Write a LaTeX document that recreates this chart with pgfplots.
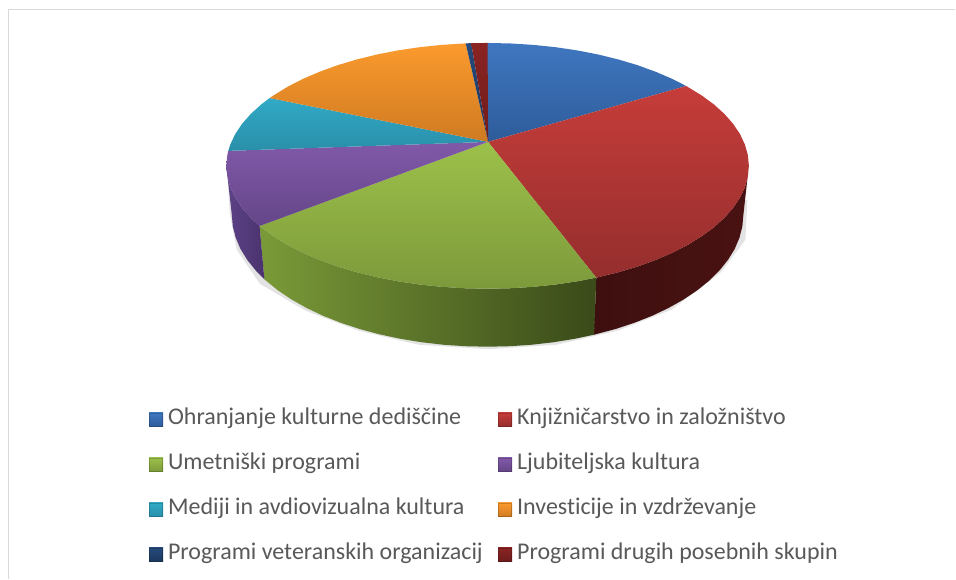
\documentclass[border=0pt]{standalone}
\usepackage{pgfplots}
\pgfplotsset{compat=1.18}
\usepackage{fontspec}
\setmainfont{Carlito}[Ligatures=NoCommon]
\definecolor{txt}{HTML}{595959}
\definecolor{frame}{HTML}{D9D9D9}
\definecolor{blueA}{HTML}{3F77C0}\definecolor{blueB}{HTML}{2E5C9A}
\definecolor{redA}{HTML}{C63D3A}\definecolor{redB}{HTML}{942E2D}
\definecolor{greenA}{HTML}{9CC04A}\definecolor{greenB}{HTML}{7D9A3B}
\definecolor{purpA}{HTML}{8059A8}\definecolor{purpB}{HTML}{654689}
\definecolor{cyanA}{HTML}{31A9C6}\definecolor{cyanB}{HTML}{2A8FA9}
\definecolor{oranA}{HTML}{FB9A2E}\definecolor{oranB}{HTML}{CF7A22}
\definecolor{navyA}{HTML}{264A7C}\definecolor{navyB}{HTML}{1C375C}
\definecolor{drA}{HTML}{8A2423}\definecolor{drB}{HTML}{6E1C1B}
\definecolor{sideRa}{HTML}{4A1212}\definecolor{sideRb}{HTML}{3E0F0F}
\definecolor{sideGa}{HTML}{7A9A38}\definecolor{sideGm}{HTML}{506A26}\definecolor{sideGb}{HTML}{3A4A19}
\definecolor{sidePa}{HTML}{5D4287}\definecolor{sidePb}{HTML}{4A336E}
\begin{document}
\begin{tikzpicture}[x=1pt,y=1pt]
\begin{axis}[
  at={(0pt,0pt)},anchor=south west,
  width=956pt,height=579pt,scale only axis,
  xmin=0,xmax=956,ymin=0,ymax=579,y dir=reverse,
  hide axis,clip=false,
  legend image code/.code={
    \path[#1,draw=none] (0pt,-7pt) rectangle (14pt,7pt);
    \draw[black,opacity=0.18,line width=0.8pt] (0.4pt,-6.6pt) rectangle (13.6pt,6.6pt);
  },
  legend columns=2,
  legend cell align=left,
  legend style={
    at={(axis cs:149,410)},anchor=north west,draw=none,fill=none,inner sep=0pt,
    font=\fontsize{24}{24}\selectfont\color{txt},
    nodes={inner sep=0pt,text height=15pt,text depth=5pt},
    row sep=25pt,
    /tikz/every even column/.style={column sep=15.5pt},
    /tikz/every odd column/.style={column sep=5pt},
  },
]
% white page and chart frame
\addplot[forget plot,draw=none,fill=white] coordinates {(0,0)(956,0)(956,579)(0,579)};
\addplot[forget plot,draw=frame,line width=1.6pt] coordinates {(8.5,579)(8.5,9.5)(956,9.5)};
% soft shadow
\addplot[forget plot,draw=none,fill=black!11] coordinates {(748,200)(746,240)(722,272)(672,310)(618,331)(557,345)(488,349.5)(419,345)(359,331)(306,311)(260,284)(237,250)(230,214)(228,180)};
% sides
\addplot[forget plot,draw=none,left color=sideRb,right color=sideRa] coordinates {(749.5,166)(748.5,176.7)(745.5,187.4)(740.6,197.8)(733.7,208.1)(725,218)(714.5,227.5)(702.2,236.5)(688.3,245.1)(672.9,253)(656.1,260.2)(638,266.8)(618.8,272.5)(596.8,277.9)(594.5,335)(616,329.3)(634.8,323.1)(652.6,316.1)(669,308.3)(684.1,299.8)(697.7,290.7)(709.7,281)(720,270.8)(728.6,260.1)(735.3,249.2)(740.1,237.9)(743,226.5)(744,215)};
\addplot[forget plot,draw=none,left color=sideGa,middle color=sideGm,right color=sideGb] coordinates {(596.8,277.9)(577.4,281.6)(555.7,284.8)(533.4,287.1)(510.8,288.5)(488,289)(465.2,288.5)(442.6,287.1)(420.3,284.8)(398.6,281.6)(377.5,277.5)(357.2,272.5)(338,266.8)(319.9,260.2)(303.1,253)(287.7,245.1)(273.8,236.5)(259.8,226.2)(264.6,279.6)(278.3,290.7)(291.9,299.8)(307,308.3)(323.4,316.1)(341.2,323.1)(360,329.3)(379.8,334.6)(400.4,339)(421.7,342.5)(443.5,345)(465.7,346.5)(488,347)(510.3,346.5)(532.5,345)(554.3,342.5)(575.6,339)(594.5,335)};
\addplot[forget plot,draw=none,left color=sidePa,right color=sidePb] coordinates {(259.8,226.2)(251,218)(242.3,208.1)(235.4,197.8)(230.5,187.4)(227.5,176.7)(226.5,166)(232,215)(233,226.5)(235.9,237.9)(240.7,249.2)(247.4,260.1)(256,270.8)(264.6,279.6)};
% top of the pie, one wedge per category
\addplot[draw=none,top color=blueA,bottom color=blueB] coordinates {(488.5,142)(488,43)(510.8,43.5)(533.4,44.9)(555.7,47.2)(577.4,50.4)(598.5,54.5)(618.8,59.5)(638,65.2)(656.1,71.8)(672.9,79)(686.8,86.1)};
\addlegendentry{Ohranjanje kulturne dediščine}
\addplot[draw=none,top color=redA,bottom color=redB] coordinates {(488.5,142)(686.8,86.1)(702.2,95.5)(714.5,104.5)(725,114)(733.7,123.9)(740.6,134.2)(745.5,144.6)(748.5,155.3)(749.5,166)(748.5,176.7)(745.5,187.4)(740.6,197.8)(733.7,208.1)(725,218)(714.5,227.5)(702.2,236.5)(688.3,245.1)(672.9,253)(656.1,260.2)(638,266.8)(618.8,272.5)(596.8,277.9)};
\addlegendentry{Knjižničarstvo in založništvo}
\addplot[draw=none,top color=greenA,bottom color=greenB] coordinates {(488.5,142)(596.8,277.9)(577.4,281.6)(555.7,284.8)(533.4,287.1)(510.8,288.5)(488,289)(465.2,288.5)(442.6,287.1)(420.3,284.8)(398.6,281.6)(377.5,277.5)(357.2,272.5)(338,266.8)(319.9,260.2)(303.1,253)(287.7,245.1)(273.8,236.5)(259.8,226.2)};
\addlegendentry{Umetniški programi}
\addplot[draw=none,top color=purpA,bottom color=purpB] coordinates {(488.5,142)(259.8,226.2)(251,218)(242.3,208.1)(235.4,197.8)(230.5,187.4)(227.5,176.7)(226.5,166)(227.5,155.3)(228.5,151)};
\addlegendentry{Ljubiteljska kultura}
\addplot[draw=none,top color=cyanA,bottom color=cyanB] coordinates {(488.5,142)(228.5,151)(230.5,144.6)(235.4,134.2)(242.3,123.9)(251,114)(261.5,104.5)(269.9,98.1)};
\addlegendentry{Mediji in avdiovizualna kultura}
\addplot[draw=none,top color=oranA,bottom color=oranB] coordinates {(488.5,142)(269.9,98.1)(273.8,95.5)(287.7,86.9)(303.1,79)(319.9,71.8)(338,65.2)(357.2,59.5)(377.5,54.5)(398.6,50.4)(420.3,47.2)(442.6,44.9)(466.1,43.4)};
\addlegendentry{Investicije in vzdrževanje}
\addplot[draw=none,top color=navyA,bottom color=navyB] coordinates {(488.5,142)(466.1,43.4)(471.6,43.2)};
\addlegendentry{Programi veteranskih organizacij}
\addplot[draw=none,top color=drA,bottom color=drB] coordinates {(488.5,142)(471.6,43.2)(488,43)};
\addlegendentry{Programi drugih posebnih skupin}
\end{axis}
\end{tikzpicture}
\end{document}
